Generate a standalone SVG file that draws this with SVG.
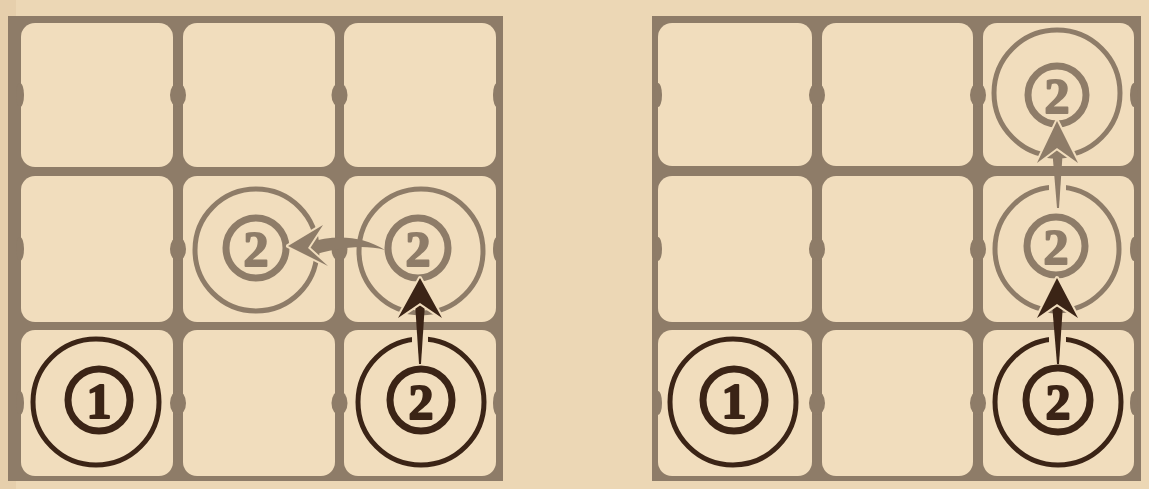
<svg xmlns="http://www.w3.org/2000/svg" width="1149" height="489" viewBox="0 0 1149 489">
<style>
.bg{fill:#ecd7b5}
.frame{fill:#8e7c68}
.cell{fill:#f1ddbd}
.bump{fill:#8e7c68}
.ring{fill:none;stroke-width:5}
.inner{fill:none;stroke-width:7}
.dark{stroke:#3b2416}
.faded{stroke:#8e7c68}
.num{font-family:"Liberation Serif","DejaVu Serif",serif;font-weight:bold;font-size:50px;text-anchor:middle;stroke-width:2;stroke-linejoin:round}
.numdark{fill:#3b2416;stroke:#3b2416}
.numfaded{fill:#8e7c68;stroke:#8e7c68}
.headdark{fill:#3b2416;stroke:#f1ddbd;stroke-width:4;paint-order:stroke;stroke-linejoin:round}
.headfaded{fill:#8e7c68;stroke:#f1ddbd;stroke-width:4;paint-order:stroke;stroke-linejoin:round}
.shaftdark{fill:#3b2416}
.shaftfaded{fill:#8e7c68}
.gap{fill:#f1ddbd}
</style>
<rect class="bg" x="0" y="0" width="1149" height="489"/>
<rect x="0" y="0" width="16" height="489" fill="#e6cfac"/>

<!-- Left board -->
<g id="board-left">
  <rect class="frame" x="8" y="16" width="495" height="465"/>
  <g id="L-r1c1"><rect class="cell" x="21" y="23" width="152" height="144" rx="14"/></g>
  <g id="L-r1c2"><rect class="cell" x="183" y="23" width="152" height="144" rx="14"/></g>
  <g id="L-r1c3"><rect class="cell" x="344" y="23" width="152" height="144" rx="14"/></g>
  <g id="L-r2c1"><rect class="cell" x="21" y="176" width="152" height="146" rx="14"/></g>
  <g id="L-r2c2"><rect class="cell" x="183" y="176" width="152" height="146" rx="14"/></g>
  <g id="L-r2c3"><rect class="cell" x="344" y="176" width="152" height="146" rx="14"/></g>
  <g id="L-r3c1"><rect class="cell" x="21" y="330" width="152" height="146" rx="14"/></g>
  <g id="L-r3c2"><rect class="cell" x="183" y="330" width="152" height="146" rx="14"/></g>
  <g id="L-r3c3"><rect class="cell" x="344" y="330" width="152" height="146" rx="14"/></g>
  <g id="L-bumps">
    <ellipse class="bump" cx="20" cy="95" rx="4" ry="12"/><ellipse class="bump" cx="20" cy="249" rx="4" ry="12"/><ellipse class="bump" cx="20" cy="403" rx="4" ry="12"/>
    <ellipse class="bump" cx="178" cy="95" rx="8" ry="12"/><ellipse class="bump" cx="178" cy="249" rx="8" ry="12"/><ellipse class="bump" cx="178" cy="403" rx="8" ry="12"/>
    <ellipse class="bump" cx="339.5" cy="95" rx="8" ry="12"/><ellipse class="bump" cx="339.5" cy="249" rx="8" ry="12"/><ellipse class="bump" cx="339.5" cy="403" rx="8" ry="12"/>
    <ellipse class="bump" cx="497" cy="95" rx="4" ry="12"/><ellipse class="bump" cx="497" cy="249" rx="4" ry="12"/><ellipse class="bump" cx="497" cy="403" rx="4" ry="12"/>
  </g>
</g>

<g id="L-token-1">
  <circle class="ring dark" cx="96" cy="402" r="63"/>
  <circle class="inner dark" cx="99" cy="400" r="31"/>
  <text class="num numdark" x="99" y="418">1</text>
</g>
<g id="L-token-2-start">
  <circle class="ring dark" cx="421" cy="402" r="63"/>
  <circle class="inner dark" cx="421" cy="400" r="31"/>
  <text class="num numdark" x="421" y="419">2</text>
</g>
<g id="L-token-2-up">
  <circle class="ring faded" cx="421" cy="251" r="62"/>
  <circle class="inner faded" cx="418" cy="248" r="30"/>
  <text class="num numfaded" x="418" y="266">2</text>
</g>
<g id="L-token-2-left">
  <circle class="ring faded" cx="256" cy="250" r="61"/>
  <circle class="inner faded" cx="256" cy="248" r="30"/>
  <text class="num numfaded" x="256" y="266">2</text>
</g>

<!-- Right board -->
<g id="board-right">
  <rect class="frame" x="652" y="16" width="489" height="465"/>
  <g id="R-r1c1"><rect class="cell" x="658" y="23" width="154" height="143" rx="14"/></g>
  <g id="R-r1c2"><rect class="cell" x="822" y="23" width="151" height="143" rx="14"/></g>
  <g id="R-r1c3"><rect class="cell" x="983" y="23" width="151" height="143" rx="14"/></g>
  <g id="R-r2c1"><rect class="cell" x="658" y="176" width="154" height="146" rx="14"/></g>
  <g id="R-r2c2"><rect class="cell" x="822" y="176" width="151" height="146" rx="14"/></g>
  <g id="R-r2c3"><rect class="cell" x="983" y="176" width="151" height="146" rx="14"/></g>
  <g id="R-r3c1"><rect class="cell" x="658" y="330" width="154" height="146" rx="14"/></g>
  <g id="R-r3c2"><rect class="cell" x="822" y="330" width="151" height="146" rx="14"/></g>
  <g id="R-r3c3"><rect class="cell" x="983" y="330" width="151" height="146" rx="14"/></g>
  <g id="R-bumps">
    <ellipse class="bump" cx="658" cy="95" rx="4" ry="12"/><ellipse class="bump" cx="658" cy="249" rx="4" ry="12"/><ellipse class="bump" cx="658" cy="403" rx="4" ry="12"/>
    <ellipse class="bump" cx="817" cy="95" rx="8" ry="12"/><ellipse class="bump" cx="817" cy="249" rx="8" ry="12"/><ellipse class="bump" cx="817" cy="403" rx="8" ry="12"/>
    <ellipse class="bump" cx="978" cy="95" rx="8" ry="12"/><ellipse class="bump" cx="978" cy="249" rx="8" ry="12"/><ellipse class="bump" cx="978" cy="403" rx="8" ry="12"/>
    <ellipse class="bump" cx="1134" cy="95" rx="4" ry="12"/><ellipse class="bump" cx="1134" cy="249" rx="4" ry="12"/><ellipse class="bump" cx="1134" cy="403" rx="4" ry="12"/>
  </g>
</g>

<g id="R-token-1">
  <circle class="ring dark" cx="733" cy="402" r="63"/>
  <circle class="inner dark" cx="734" cy="400" r="31"/>
  <text class="num numdark" x="734" y="418">1</text>
</g>
<g id="R-token-2-start">
  <circle class="ring dark" cx="1058" cy="402" r="63"/>
  <circle class="inner dark" cx="1058" cy="400" r="32"/>
  <text class="num numdark" x="1058" y="419">2</text>
</g>
<g id="R-token-2-mid">
  <circle class="ring faded" cx="1057" cy="249" r="62"/>
  <circle class="inner faded" cx="1056" cy="246" r="29"/>
  <text class="num numfaded" x="1056" y="264">2</text>
</g>
<g id="R-token-2-top">
  <circle class="ring faded" cx="1057" cy="93" r="63"/>
  <circle class="inner faded" cx="1057" cy="95" r="29"/>
  <text class="num numfaded" x="1057" y="113">2</text>
</g>

<g id="connectors">
  <rect class="gap" x="412" y="333" width="16" height="10"/>
  <rect class="gap" x="1049" y="333" width="17" height="10"/>
  <rect class="gap" x="1049" y="181" width="17" height="10"/>
  <path class="shaftdark" d="M415,303 L425,303 L421,364 L419,364 Z"/>
  <path class="headdark" d="M420,278 L442,318 L420,303 L398,318 Z"/>
  <path class="shaftfaded" d="M308,243 C335,234 362,236 385,250 C362,244 336,248 310,256 Z"/>
  <path class="headfaded" d="M288,246 L323,225 L308,248 L328,266 Z"/>
  <path class="shaftdark" d="M1052,304 L1063,304 L1059,364 L1057,364 Z"/>
  <path class="headdark" d="M1057,278 L1078,318 L1057,304 L1037,318 Z"/>
  <path class="shaftfaded" d="M1052,148 L1063,148 L1059,208 L1057,208 Z"/>
  <path class="headfaded" d="M1057,121 L1078,163 L1057,148 L1037,163 Z"/>
</g>
</svg>
